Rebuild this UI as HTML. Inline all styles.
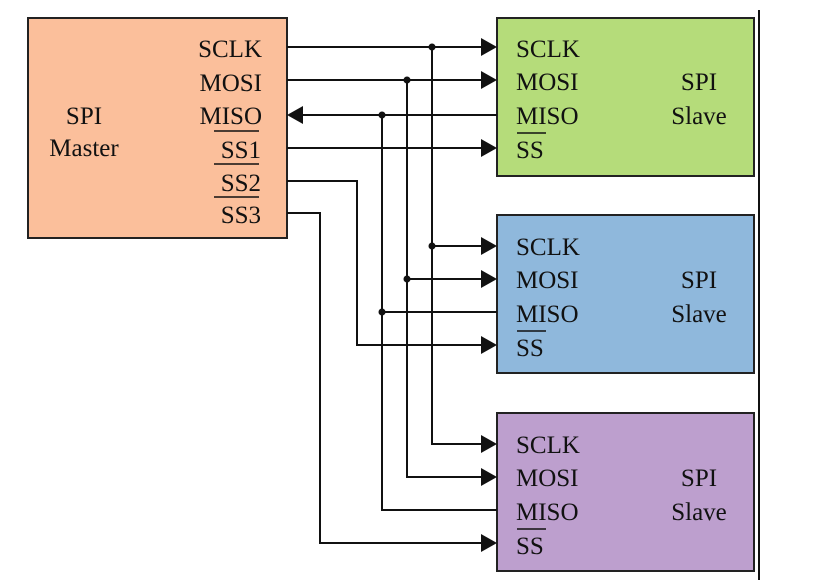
<!DOCTYPE html>
<html><head><meta charset="utf-8"><style>
html,body{margin:0;padding:0;background:#fff;width:825px;height:584px;overflow:hidden}
text{font-family:'Liberation Serif','DejaVu Serif',serif;font-size:25px;fill:#111}
</style></head><body>
<svg width="825" height="584" viewBox="0 0 825 584" xmlns="http://www.w3.org/2000/svg" font-family="Liberation Serif, serif" font-size="25">
<rect x="28" y="18" width="259" height="220" fill="#fbbf9b" stroke="#222" stroke-width="2"/>
<rect x="497" y="18" width="257" height="158" fill="#b5dc7a" stroke="#222" stroke-width="2"/>
<rect x="497" y="215" width="257" height="158" fill="#8fb8dc" stroke="#222" stroke-width="2"/>
<rect x="497" y="413" width="257" height="158" fill="#bd9fce" stroke="#222" stroke-width="2"/>
<line x1="759" y1="10" x2="759" y2="580" stroke="#111" stroke-width="2"/>
<g stroke="#111" stroke-width="2" fill="none">
<polyline points="287,47 481,47"/>
<polyline points="287,80 481,80"/>
<polyline points="303,115 497,115"/>
<polyline points="287,148 481,148"/>
<polyline points="432,47 432,444 481,444"/>
<polyline points="432,246 481,246"/>
<polyline points="407,80 407,477 481,477"/>
<polyline points="407,279 481,279"/>
<polyline points="382,115 382,510 497,510"/>
<polyline points="382,312 497,312"/>
<polyline points="287,181 357,181 357,345 481,345"/>
<polyline points="287,213 320,213 320,543 481,543"/>
</g>
<g fill="#111">
<polygon points="481,38 497,47 481,56"/><polygon points="481,71 497,80 481,89"/><polygon points="481,139 497,148 481,157"/>
<polygon points="481,237 497,246 481,255"/><polygon points="481,270 497,279 481,288"/><polygon points="481,336 497,345 481,354"/>
<polygon points="481,435 497,444 481,453"/><polygon points="481,468 497,477 481,486"/><polygon points="481,534 497,543 481,552"/>
<polygon points="303,106 287,115 303,124"/>
<circle cx="432" cy="47" r="3.5"/><circle cx="432" cy="246" r="3.5"/>
<circle cx="407" cy="80" r="3.5"/><circle cx="407" cy="279" r="3.5"/>
<circle cx="382" cy="115" r="3.5"/><circle cx="382" cy="312" r="3.5"/>
</g>
<g text-anchor="end">
<text x="262" y="57">SCLK</text><text x="262" y="91">MOSI</text><text x="262" y="124">MISO</text>
<text x="261" y="158">SS1</text><text x="261" y="191">SS2</text><text x="261" y="223">SS3</text>
</g>
<g stroke="#111" stroke-width="1.5"><line x1="214" y1="131" x2="259" y2="131"/><line x1="214" y1="164" x2="259" y2="164"/><line x1="214" y1="197" x2="259" y2="197"/></g>
<text x="84" y="124" text-anchor="middle">SPI</text><text x="84" y="156" text-anchor="middle">Master</text>
<g>
<text x="516" y="57">SCLK</text><text x="516" y="90">MOSI</text><text x="516" y="124">MISO</text><text x="516" y="158">SS</text>
<text x="699" y="90" text-anchor="middle">SPI</text><text x="699" y="124" text-anchor="middle">Slave</text>
<text x="516" y="255">SCLK</text><text x="516" y="288">MOSI</text><text x="516" y="322">MISO</text><text x="516" y="356">SS</text>
<text x="699" y="288" text-anchor="middle">SPI</text><text x="699" y="322" text-anchor="middle">Slave</text>
<text x="516" y="453">SCLK</text><text x="516" y="486">MOSI</text><text x="516" y="520">MISO</text><text x="516" y="554">SS</text>
<text x="699" y="486" text-anchor="middle">SPI</text><text x="699" y="520" text-anchor="middle">Slave</text>
</g>
<g stroke="#111" stroke-width="1.5"><line x1="517" y1="133" x2="546" y2="133"/><line x1="517" y1="331" x2="546" y2="331"/><line x1="517" y1="529" x2="546" y2="529"/></g>
</svg>
</body></html>
